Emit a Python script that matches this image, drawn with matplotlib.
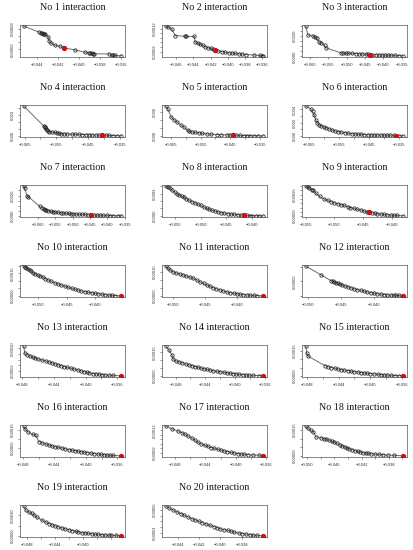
import matplotlib
matplotlib.use("Agg")
import matplotlib.pyplot as plt

# x values in units of 1e-3, y values in units of 1e-5
X_UNIT = 1e-3
Y_UNIT = 1e-5

x1 = [-45.2, -43.8, -43.6, -43.45, -43.4, -43.3, -43.2, -42.9, -42.8, -42.6, -42.3, -41.8, -41.4,
      -40.4, -39.4, -39.0, -38.9, -38.8, -38.7, -38.6, -37.1, -36.9, -36.8, -36.6, -36.0]
y1 = [8.8, 7.1, 6.9, 6.7, 6.6, 6.5, 6.4, 5.7, 4.3, 3.8, 3.2, 2.9, 2.4,
      1.8, 1.1, 0.9, 0.8, 0.75, 0.7, 0.65, 0.6, 0.3, 0.2, 0.15, 0.05]

x2 = [-47.2, -46.9, -46.5, -46.1, -45.0, -44.9, -43.9, -43.8, -43.5, -43.2, -42.9, -42.6, -42.3, -42.0,
      -41.7, -41.5, -41.2, -40.7, -40.3, -39.9, -39.5, -39.2, -38.7, -38.3, -37.9, -37.0, -36.3, -36.0, -35.9]
y2 = [13.0, 12.6, 11.6, 8.9, 8.7, 8.6, 8.6, 6.2, 5.8, 5.2, 4.7, 4.1, 3.7, 3.4,
      3.0, 2.7, 2.4, 2.1, 1.8, 1.6, 1.4, 1.3, 1.1, 1.0, 0.8, 0.6, 0.4, 0.3, 0.25]

x3 = [-61.1, -60.6, -59.1, -58.7, -58.2, -57.5, -56.9, -56.0, -55.7, -51.5, -51.0, -50.2, -49.5, -48.4, -47.5,
      -46.6, -45.8, -44.8, -44.3, -43.7, -43.0, -42.1, -41.3, -40.4, -39.6, -38.6, -37.8, -36.8, -35.8, -34.6]
y3 = [300, 214, 204, 191, 179, 144, 134, 109, 86, 35, 34, 32, 31, 29, 27,
      26, 24, 22, 20, 18, 17, 16, 15, 14, 13, 12, 11, 10, 8, 6]

x4 = [-65.2, -59.0, -58.7, -58.5, -58.2, -57.9, -57.5, -57.2, -56.5, -55.5, -54.8, -54.0, -53.4, -52.5, -51.5,
      -50.2, -49.2, -48.0, -46.9, -45.8, -44.8, -43.7, -42.5, -41.5, -40.5, -39.5, -38.3, -37.0, -35.8, -34.6]
y4 = [429, 143, 134, 124, 105, 86, 70, 62, 55, 48, 42, 37, 33, 29, 26,
      24, 22, 20, 19, 17, 15, 14, 12, 10, 8, 7, 5, 4, 2, 0]

x5 = [-66.7, -66.1, -65.0, -63.9, -62.8, -61.7, -60.6, -59.4, -58.8, -57.8, -56.8, -55.6, -54.5, -52.8,
      -51.5, -49.4, -48.0, -46.1, -45.0, -44.1, -43.0, -41.7, -40.5, -39.5, -38.3, -37.0, -35.5, -33.9]
y5 = [740, 680, 480, 400, 340, 280, 220, 140, 120, 100, 90, 80, 70, 56,
      48, 40, 36, 32, 28, 24, 21, 16, 15, 14, 12, 10, 9, 8]

x6 = [-66.1, -64.5, -63.9, -63.4, -62.8, -62.3, -61.8, -61.0, -60.2, -59.4, -58.5, -57.5, -56.4, -55.3, -54.3, -53.2,
      -52.0, -50.9, -49.9, -48.8, -47.7, -46.7, -45.6, -44.5, -43.5, -42.4, -41.3, -40.3, -39.2, -38.0, -36.8, -36.2,
      -35.0, -33.8]
y6 = [450, 410, 370, 320, 240, 200, 170, 155, 140, 125, 110, 90, 73, 65, 57, 49,
      42, 35, 29, 26, 23, 20, 18, 16, 15, 14, 13, 12, 11, 10, 7, 5,
      3, 1]

x7 = [-64.1, -63.9, -63.2, -62.9, -59.5, -58.8, -58.3, -58.1, -57.6, -57.0, -56.3, -55.7, -55.0, -54.2, -53.5, -52.8,
      -52.0, -51.2, -50.5, -49.9, -49.0, -48.2, -47.4, -46.5, -45.7, -44.6, -43.8, -43.0, -42.2, -41.2, -40.2, -39.3,
      -38.2, -37.0, -36.0]
y7 = [292, 270, 200, 190, 92, 80, 68, 62, 56, 50, 45, 40, 36, 33, 30, 27,
      25, 23, 21, 19, 17, 15, 14, 13, 11, 9, 8, 7, 6, 5, 4, 3,
      2, 1, 0]

x8 = [-56.7, -56.3, -55.9, -55.5, -55.0, -54.6, -54.1, -53.6, -53.2, -52.8, -52.2, -51.6, -51.0, -50.5, -50.0, -49.4,
      -48.8, -48.4, -47.8, -47.2, -46.6, -46.0, -45.4, -44.7, -44.1, -43.5, -42.8, -42.2, -41.6, -41.0, -40.5, -40.0,
      -39.3, -38.6, -37.9]
y8 = [40.0, 38.5, 37.0, 34.5, 32.0, 30.0, 28.0, 26.5, 25.0, 23.0, 21.0, 19.0, 17.5, 15.5, 14.0, 12.0,
      10.0, 9.0, 7.5, 6.5, 5.5, 4.5, 3.8, 3.0, 2.5, 2.0, 1.5, 1.2, 0.8, 0.5, 0.4, 0.3,
      0.2, 0.1, 0.05]

x9 = [-55.0, -54.7, -54.4, -54.0, -53.7, -53.3, -52.6, -51.8, -51.2, -50.6, -50.0, -49.4, -48.9, -48.3, -47.7, -47.2,
      -46.6, -46.0, -45.4, -44.9, -44.4, -44.0, -43.4, -42.9, -42.5, -41.9, -41.4, -40.8, -40.2, -39.6, -39.0, -38.0]
y9 = [35.0, 34.0, 33.0, 31.0, 30.0, 27.0, 23.0, 20.0, 18.5, 17.0, 15.5, 14.5, 13.5, 12.5, 11.0, 10.0,
      9.0, 8.0, 7.2, 6.0, 5.4, 5.0, 4.2, 3.5, 3.0, 2.4, 2.0, 1.6, 1.2, 0.9, 0.8, 0.4]

x10 = [-52.5, -52.3, -52.1, -51.8, -51.5, -51.2, -50.9, -50.5, -50.0, -49.6, -49.1, -48.7, -48.2, -47.7, -47.1, -46.5,
       -45.9, -45.3, -44.7, -44.1, -43.5, -43.0, -42.4, -41.8, -41.2, -40.6, -40.0, -39.4, -38.8, -38.2, -37.6, -37.0,
       -36.5, -35.4]
y10 = [19.9, 19.4, 19.0, 18.1, 17.2, 16.5, 15.4, 14.7, 13.9, 13.2, 12.4, 11.5, 10.6, 9.7, 8.8, 8.0,
       7.3, 6.5, 5.7, 5.0, 4.4, 3.9, 3.3, 2.8, 2.4, 2.1, 1.8, 1.4, 1.1, 0.8, 0.5, 0.35,
       0.22, 0.05]

x11 = [-51.1, -50.8, -50.5, -50.0, -49.5, -48.9, -48.4, -47.9, -47.3, -46.8, -46.3, -45.8, -45.2, -44.7, -44.2,
       -43.7, -43.2, -42.6, -42.1, -41.6, -41.0, -40.5, -40.0, -39.5, -39.0, -38.4, -37.9, -37.4, -36.8, -35.9]
y11 = [18.5, 17.2, 16.4, 15.0, 14.3, 13.6, 13.0, 12.3, 11.6, 10.9, 9.9, 8.8, 7.8, 6.8, 5.9,
       5.1, 4.4, 3.7, 3.1, 2.5, 2.0, 1.6, 1.3, 1.0, 0.8, 0.6, 0.4, 0.25, 0.15, 0.05]

x12 = [-50.3, -48.0, -46.5, -46.2, -46.0, -45.7, -45.5, -45.2, -44.8, -44.4, -44.0, -43.5, -43.0, -42.5,
       -42.0, -41.5, -41.0, -40.5, -40.0, -39.5, -39.0, -38.5, -38.0, -37.5, -37.0, -36.6, -36.2, -35.6]
y12 = [10.2, 7.2, 5.2, 5.0, 4.8, 4.5, 4.3, 4.0, 3.7, 3.4, 3.1, 2.8, 2.4, 2.1,
       1.9, 1.6, 1.3, 1.1, 0.9, 0.75, 0.56, 0.45, 0.33, 0.28, 0.22, 0.15, 0.11, 0.0]

x13 = [-47.8, -47.7, -47.4, -47.0, -46.6, -46.4, -46.0, -45.5, -45.0, -44.6, -44.3, -43.9, -43.5, -43.1, -42.7, -42.3,
       -41.8, -41.4, -41.0, -40.6, -40.2, -39.8, -39.5, -39.1, -38.7, -38.3, -37.9, -37.5, -37.0, -36.5, -35.5]
y13 = [10.8, 8.3, 7.8, 7.3, 6.8, 6.6, 6.2, 5.8, 5.5, 5.1, 4.9, 4.5, 4.2, 3.8, 3.5, 3.2,
       2.8, 2.6, 2.3, 2.0, 1.7, 1.4, 1.2, 1.0, 0.86, 0.75, 0.6, 0.5, 0.4, 0.3, 0.17]

x14 = [-49.3, -48.9, -48.5, -48.3, -48.0, -47.5, -47.1, -46.6, -46.2, -45.8, -45.4, -45.0, -44.6, -44.2, -43.7, -43.3,
       -42.9, -42.4, -42.0, -41.5, -41.1, -40.7, -40.2, -39.8, -39.4, -38.9, -38.5, -38.1, -37.6, -36.8, -36.2]
y14 = [19.0, 16.6, 13.6, 10.6, 9.6, 8.9, 8.3, 7.6, 7.0, 6.5, 6.0, 5.5, 5.0, 4.6, 4.1, 3.7,
       3.3, 2.9, 2.6, 2.3, 2.0, 1.7, 1.5, 1.2, 1.0, 0.8, 0.6, 0.45, 0.35, 0.2, 0.05]

x15 = [-48.1, -48.0, -47.8, -45.7, -45.3, -44.9, -44.5, -44.1, -43.7, -43.3, -42.8, -42.4, -42.0, -41.6,
       -41.2, -40.8, -40.4, -40.0, -39.5, -39.1, -38.7, -38.3, -37.9, -37.4, -36.9, -36.4, -35.9]
y15 = [17.8, 13.7, 11.8, 6.2, 5.6, 5.1, 4.7, 4.3, 3.9, 3.6, 3.3, 2.9, 2.6, 2.4,
       2.1, 1.9, 1.7, 1.5, 1.3, 1.1, 0.9, 0.75, 0.6, 0.5, 0.37, 0.28, 0.19]

x16 = [-47.9, -47.8, -47.4, -46.8, -46.4, -46.0, -45.6, -45.1, -44.7, -44.3, -43.9, -43.5, -43.0, -42.6, -42.2,
       -41.8, -41.4, -41.0, -40.6, -40.2, -39.8, -39.3, -38.9, -38.5, -38.1, -37.7, -37.3, -36.9, -36.5, -35.5]
y16 = [17.2, 15.9, 14.1, 12.6, 12.3, 8.6, 8.0, 7.2, 6.6, 6.1, 5.7, 5.3, 4.9, 4.5, 4.1,
       3.8, 3.5, 3.2, 2.9, 2.6, 2.4, 2.1, 1.8, 1.6, 1.4, 1.2, 1.05, 0.9, 0.8, 0.6]

x17 = [-49.2, -48.4, -47.6, -47.1, -46.7, -46.3, -45.8, -45.4, -45.0, -44.6, -44.1, -43.7, -43.2, -42.8,
       -42.4, -41.9, -41.5, -41.1, -40.6, -40.2, -39.7, -39.3, -38.9, -38.4, -37.7, -37.0, -36.4]
y17 = [13.9, 12.7, 11.7, 11.0, 10.3, 9.5, 8.6, 7.6, 6.7, 6.0, 5.3, 4.8, 4.3, 3.9,
       3.5, 3.1, 2.7, 2.4, 2.1, 1.8, 1.6, 1.4, 1.2, 1.1, 0.95, 0.86, 0.57]

x18 = [-50.2, -49.9, -49.5, -49.1, -48.7, -48.0, -47.6, -47.2, -46.8, -46.4, -46.0, -45.6, -45.2, -44.9, -44.5, -44.1,
       -43.8, -43.4, -43.0, -42.6, -42.2, -41.8, -41.4, -41.0, -40.6, -40.0, -39.4, -38.8, -38.1, -37.3, -35.9]
y18 = [17.3, 16.0, 14.8, 14.0, 11.1, 10.5, 10.1, 9.7, 9.0, 8.5, 7.8, 7.2, 6.5, 5.8, 5.2, 4.6,
       4.0, 3.6, 3.1, 2.6, 2.3, 1.9, 1.6, 1.4, 1.2, 0.95, 0.78, 0.6, 0.45, 0.3, 0.0]

x19 = [-48.5, -48.2, -47.8, -47.4, -47.1, -46.6, -45.9, -45.4, -44.9, -44.5, -44.1, -43.6, -43.1, -42.6, -42.1,
       -41.6, -41.1, -40.7, -40.2, -39.7, -39.3, -38.8, -38.3, -37.9, -37.4, -36.9, -36.4, -36.0, -35.4, -34.6]
y19 = [14.5, 12.4, 11.6, 11.0, 10.3, 9.0, 7.6, 6.8, 6.0, 5.5, 5.0, 4.4, 3.9, 3.4, 3.0,
       2.6, 2.2, 1.9, 1.6, 1.4, 1.2, 1.0, 0.8, 0.65, 0.5, 0.4, 0.35, 0.3, 0.2, 0.0]

x20 = [-45.1, -44.8, -44.4, -44.1, -43.7, -43.4, -43.0, -42.7, -42.4, -42.0, -41.7, -41.3, -41.0, -40.6,
       -40.3, -40.0, -39.7, -39.3, -39.0, -38.7, -38.3, -38.0, -37.6, -37.2, -36.9, -36.6, -36.0]
y20 = [5.7, 5.4, 5.0, 4.7, 4.4, 4.1, 3.8, 3.5, 3.3, 3.0, 2.8, 2.5, 2.3, 2.1,
       1.9, 1.7, 1.55, 1.4, 1.25, 1.1, 0.95, 0.85, 0.75, 0.65, 0.57, 0.52, 0.45]

XS = [x1, x2, x3, x4, x5, x6, x7, x8, x9, x10, x11, x12, x13, x14, x15, x16, x17, x18, x19, x20]
YS = [y1, y2, y3, y4, y5, y6, y7, y8, y9, y10, y11, y12, y13, y14, y15, y16, y17, y18, y19, y20]

# index of the highlighted (red) point in each panel
red_idx = [12, 15, 19, 24, 19, 31, 25, 28, 21, 33, 29, 27, 30, 30, 26, 29, 26, 30, 29, 26]

titles = [f"No {i} interaction" for i in range(1, 21)]

# tick positions (same units as data) and the ones that carry a label
x_ticks = [
    [-44, -42, -40, -38, -36], [-46, -44, -42, -40, -38, -36], [-60, -55, -50, -45, -40, -35],
    [-65, -60, -55, -50, -45, -40, -35], [-65, -60, -55, -50, -45, -40, -35], [-65, -60, -55, -50, -45, -40, -35],
    [-60, -55, -50, -45, -40, -35], [-55, -50, -45, -40], [-55, -50, -45, -40],
    [-50, -45, -40], [-50, -45, -40], [-50, -45, -40],
    [-48, -46, -44, -42, -40, -38, -36], [-48, -46, -44, -42, -40, -38, -36], [-48, -46, -44, -42, -40, -38, -36],
    [-48, -46, -44, -42, -40, -38, -36], [-48, -46, -44, -42, -40, -38, -36], [-50, -48, -46, -44, -42, -40, -38, -36],
    [-48, -46, -44, -42, -40, -38, -36], [-44, -42, -40, -38],
]
x_shown = [
    [-44, -42, -40, -38, -36], [-46, -44, -42, -40, -38, -36], [-60, -55, -50, -45, -40, -35],
    [-65, -55, -45, -35], [-65, -55, -45, -35], [-65, -55, -45, -35],
    [-60, -55, -50, -45, -40, -35], [-55, -50, -45, -40], [-55, -50, -45, -40],
    [-50, -45, -40], [-50, -45, -40], [-50, -45, -40],
    [-48, -44, -40, -36], [-48, -44, -40, -36], [-48, -44, -40, -36],
    [-48, -44, -40, -36], [-48, -44, -40, -36], [-50, -46, -42, -38],
    [-48, -44, -40], [-44, -42, -40, -38],
]
y_ticks = [
    [2, 4, 6, 8], [2, 4, 6, 8, 10, 12], [0, 50, 100, 150, 200, 250, 300],
    [0, 100, 200, 300, 400], [0, 200, 400, 600], [0, 100, 200, 300, 400],
    [0, 50, 100, 150, 200, 250], [0, 10, 20, 30, 40], [0, 5, 10, 15, 20, 25, 30, 35],
    [0, 5, 10, 15, 20], [0, 5, 10, 15], [0, 5, 10],
    [2, 4, 6, 8, 10], [0, 5, 10, 15], [0, 5, 10, 15],
    [5, 10, 15], [2, 4, 6, 8, 10, 12], [0, 5, 10, 15],
    [0, 5, 10], [1, 2, 3, 4, 5],
]
y_shown = [
    [2, 8], [2, 12], [0, 200], [0, 300], [0, 600], [0, 200, 400],
    [0, 200], [0, 30], [0, 25], [0, 15], [0, 15], [5],
    [2, 10], [0, 15], [0, 15], [5, 15], [2, 12], [0, 15],
    [0, 10], [1, 5],
]
y_dec = [5, 5, 4, 3, 3, 3, 4, 4, 5, 5, 5, 5, 5, 5, 5, 5, 5, 5, 5, 5]

W, H = 414, 550
fig = plt.figure(figsize=(W / 100, H / 100), dpi=100)
fig.patch.set_facecolor("white")

col_left = [20, 162, 302]
box_w, box_h = 105, 32


def minus(s):
    return s.replace("-", "\u2212")


for i in range(20):
    r, c = divmod(i, 3)
    top = 25 + 80 * r
    ax = fig.add_axes([col_left[c] / W, 1 - (top + box_h) / H, box_w / W, box_h / H])

    xs = [v * X_UNIT for v in XS[i]]
    ys = [v * Y_UNIT for v in YS[i]]
    ax.plot(xs, ys, color="#6e6e6e", lw=0.7, zorder=1)
    ax.plot(xs, ys, ls="none", marker="o", ms=2.4, mfc="none", mec="#1e1e1e", mew=0.55, zorder=2)
    k = red_idx[i]
    ax.plot(xs[k], ys[k], ls="none", marker="o", ms=2.8, color="#c41414", zorder=3)
    ax.margins(0.04)

    ax.set_xticks([v * X_UNIT for v in x_ticks[i]])
    ax.set_xticklabels([minus(f"{v * X_UNIT:.3f}") if v in x_shown[i] else "" for v in x_ticks[i]])
    ax.set_yticks([v * Y_UNIT for v in y_ticks[i]])
    ax.set_yticklabels([f"{v * Y_UNIT:.{y_dec[i]}f}" if v in y_shown[i] else "" for v in y_ticks[i]],
                       rotation=90, va="center")

    ax.tick_params(axis="both", length=1.5, width=0.4, color="#444444",
                   labelsize=3.0, labelcolor="#333333")
    ax.tick_params(axis="x", pad=2.5)
    ax.tick_params(axis="y", pad=2.0)
    for lab in ax.get_xticklabels() + ax.get_yticklabels():
        lab.set_family("Liberation Sans")
    for sp in ax.spines.values():
        sp.set_linewidth(0.5)
        sp.set_color("#555555")

    ax.text(0.5, 1 + 17 / box_h, titles[i], transform=ax.transAxes, ha="center", va="center",
            fontsize=7.2, family="Liberation Serif", color="#111111")

fig.savefig("out.png", dpi=100)
